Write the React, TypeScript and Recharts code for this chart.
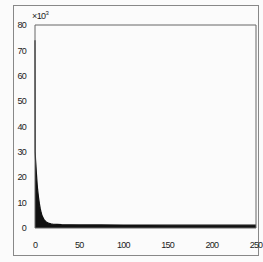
import { Area, AreaChart, ReferenceArea, XAxis, YAxis } from "recharts";

// decay curve, values in units of 10^3
const xs = [0, 0.2, 0.6, 1, 1.5, 2, 2.5, 3, 4, 5, 6, 7, 8, 10, 12, 14, 16, 18, 20, 25, 30, 40, 50, 75, 100, 125, 150, 175, 200, 225, 250];
const ys = [74, 30, 27, 25, 22, 19.5, 17, 15, 12, 9.5, 7.5, 6, 4.8, 3.4, 2.6, 2.1, 1.8, 1.6, 1.5, 1.4, 1.3, 1.25, 1.2, 1.2, 1.15, 1.15, 1.1, 1.1, 1.1, 1.1, 1.1];
const xTicks = [0, 50, 100, 150, 200, 250];
const yTicks = [0, 10, 20, 30, 40, 50, 60, 70, 80];

const data = xs.map((x, i) => ({ x, y: ys[i] }));

const tickStyle = {
  fill: "#222",
  fontSize: 9,
  fontFamily: "Liberation Sans, Arial, sans-serif",
  letterSpacing: -0.8,
};

export default function App() {
  return (
    <div
      style={{
        position: "fixed",
        left: 0,
        top: 0,
        width: 263,
        height: 262,
        background: "#fbfbfb",
        overflow: "hidden",
      }}
    >
      <div
        style={{
          position: "absolute",
          left: 13,
          top: 5,
          width: 246,
          height: 251,
          border: "1px solid #888",
          boxSizing: "border-box",
        }}
      />
      <AreaChart
        width={263}
        height={262}
        data={data}
        margin={{ top: 25, right: 7, bottom: 0, left: 0 }}
        style={{ position: "absolute", left: 0, top: 0 }}
      >
        <XAxis
          dataKey="x"
          type="number"
          domain={[0, 250]}
          ticks={xTicks}
          height={34}
          axisLine={false}
          tickLine={false}
          tickMargin={8}
          tick={tickStyle}
          interval={0}
        />
        <YAxis
          type="number"
          domain={[0, 80]}
          ticks={yTicks}
          width={35}
          axisLine={false}
          tickLine={false}
          tickMargin={3}
          tick={tickStyle}
          interval={0}
        />
        <Area
          dataKey="y"
          type="linear"
          stroke="#111"
          strokeWidth={1.2}
          fill="#111"
          fillOpacity={1}
          isAnimationActive={false}
          dot={false}
          activeDot={false}
        />
        <ReferenceArea
          x1={0}
          x2={250}
          y1={0}
          y2={80}
          fill="none"
          stroke="#666"
          strokeWidth={1}
          ifOverflow="visible"
        />
      </AreaChart>
      <div
        style={{
          position: "absolute",
          left: 32,
          top: 10,
          fontSize: 9,
          fontFamily: "Liberation Sans, Arial, sans-serif",
          color: "#222",
          letterSpacing: -0.6,
        }}
      >
        ×10<sup style={{ fontSize: 6 }}>3</sup>
      </div>
    </div>
  );
}
